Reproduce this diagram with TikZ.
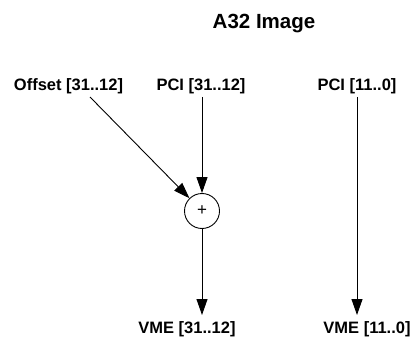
\documentclass[tikz,border=0pt]{standalone}
\usepackage{fontspec}
\setmainfont{Liberation Sans}
\usetikzlibrary{arrows.meta}
\begin{document}
\begin{tikzpicture}[x=1pt,y=-1pt,
  lbl/.style={font=\fontsize{16.5}{18}\selectfont\bfseries, anchor=base, inner sep=0pt},
  ttl/.style={font=\fontsize{20.5}{22}\selectfont\bfseries, anchor=base, inner sep=0pt},
  conn/.style={line width=0.9pt, -{Triangle[length=16pt,width=11pt]}},
  adder/.style={circle, draw, line width=0.9pt, minimum size=35pt, inner sep=0pt, font=\fontsize{17}{17}\selectfont}]
\useasboundingbox (0,0) rectangle (414,339);
\node[ttl] (title) at (264,28.5) {A32 Image};
\node[lbl] (off) at (68.5,91) {Offset [31..12]};
\node[lbl] (pcihi) at (201,91) {PCI [31..12]};
\node[lbl] (pcilo) at (357,91) {PCI [11..0]};
\node[adder] (sum) at (202,211) {+};
\node[lbl] (vmehi) at (187,333) {VME [31..12]};
\node[lbl] (vmelo) at (367,333) {VME [11..0]};
\coordinate (offs) at (90,97);
\coordinate (pcis) at (202,97);
\coordinate (pcil) at (357,97);
\coordinate (vhe) at (202,315);
\coordinate (vle) at (357,315);
\draw[conn] (offs) -- (sum);
\draw[conn] (pcis) -- (sum);
\draw[conn] (sum) -- (vhe);
\draw[conn] (pcil) -- (vle);
\end{tikzpicture}
\end{document}
